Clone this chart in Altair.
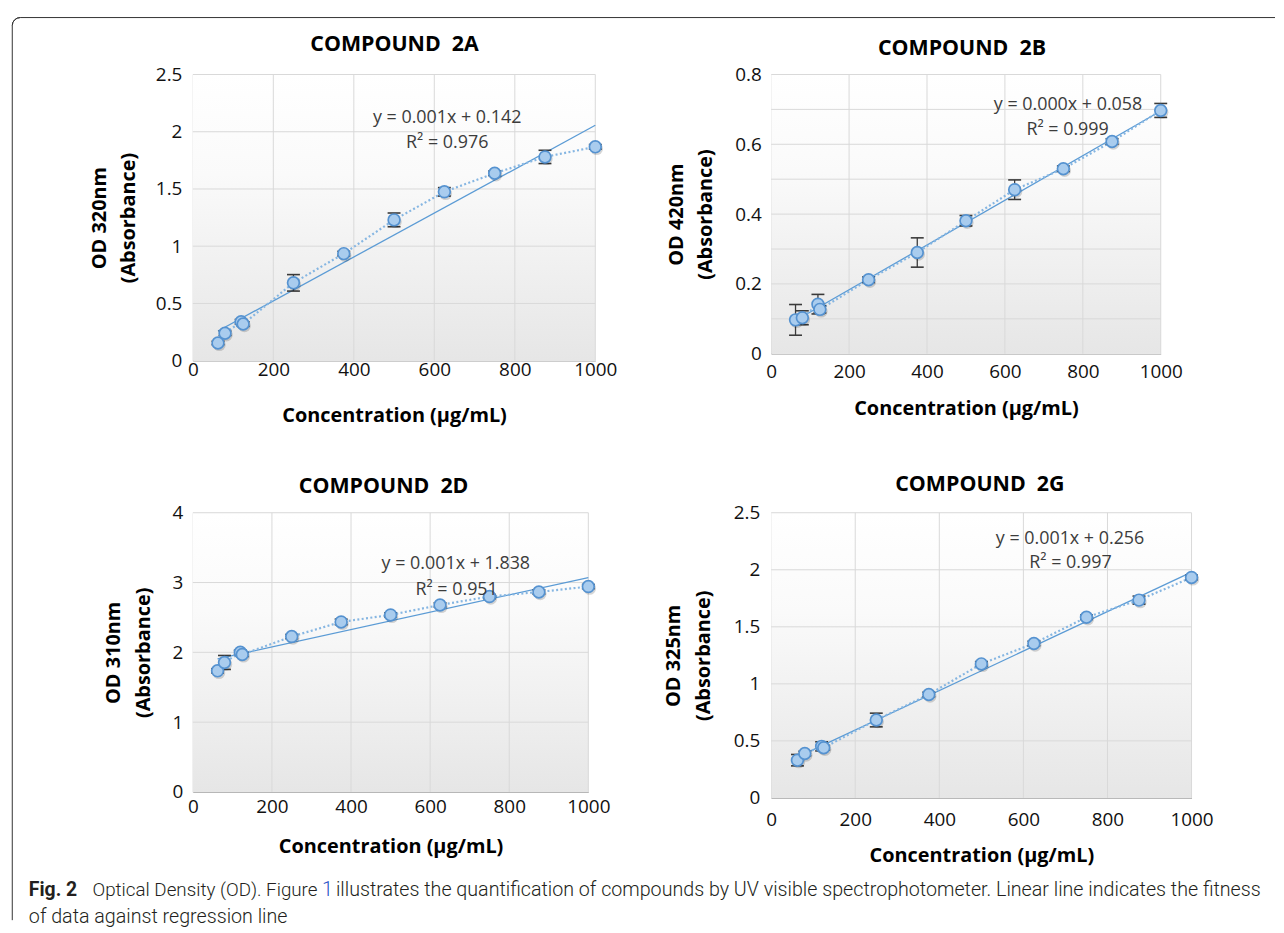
import altair as alt
import pandas as pd

# ---------------- data ----------------
conc = [62.5, 80, 120, 125, 250, 375, 500, 625, 750, 875, 1000]

od_2a = [0.155, 0.24, 0.34, 0.32, 0.68, 0.935, 1.23, 1.475, 1.637, 1.78, 1.868]
err_2a = [0.015, 0.02, 0.02, 0.02, 0.072, 0.02, 0.06, 0.037, 0.02, 0.058, 0.02]

od_2b = [0.097, 0.103, 0.142, 0.127, 0.212, 0.29, 0.381, 0.47, 0.53, 0.608, 0.697]
err_2b = [0.044, 0.02, 0.028, 0.01, 0.008, 0.042, 0.015, 0.028, 0.008, 0.008, 0.02]

od_2d = [1.735, 1.855, 2.0, 1.97, 2.226, 2.436, 2.536, 2.679, 2.799, 2.865, 2.942]
err_2d = [0.03, 0.1, 0.03, 0.03, 0.03, 0.04, 0.03, 0.03, 0.03, 0.03, 0.03]

od_2g = [0.331, 0.389, 0.452, 0.44, 0.683, 0.907, 1.175, 1.354, 1.584, 1.734, 1.933]
err_2g = [0.05, 0.02, 0.04, 0.02, 0.06, 0.02, 0.02, 0.02, 0.02, 0.035, 0.02]

x_ticks = [0, 200, 400, 600, 800, 1000]
y_ticks_2a = [0, 0.5, 1, 1.5, 2, 2.5]
y_ticks_2b = [0, 0.1, 0.2, 0.3, 0.4, 0.5, 0.6, 0.7, 0.8]
y_ticks_2d = [0, 1, 2, 3, 4]
y_ticks_2g = [0, 0.5, 1, 1.5, 2, 2.5]

panel_titles = ["COMPOUND\u00a0 2A", "COMPOUND\u00a0 2B", "COMPOUND\u00a0 2D", "COMPOUND\u00a0 2G"]
y_titles = [["OD 320nm", "(Absorbance)"], ["OD 420nm", "(Absorbance)"],
            ["OD 310nm", "(Absorbance)"], ["OD 325nm", "(Absorbance)"]]
x_title = "Concentration (µg/mL)"
equations = ["y = 0.001x + 0.142", "y = 0.000x + 0.058", "y = 0.001x + 1.838", "y = 0.001x + 0.256"]
r2_texts = ["R² = 0.976", "R² = 0.999", "R² = 0.951", "R² = 0.997"]

caption_bold = "Fig. 2"
caption_a = "Optical Density (OD). Figure"
caption_link = "1"
caption_b = ("illustrates the quantification of compounds by UV visible spectrophotometer. "
             "Linear line indicates the fitness")
caption_2 = "of data against regression line"

# ---------------- styles ----------------
FONT = "Open Sans"
CAP_FONT = "Roboto"
AXIS_C = "#B3B3B3"
GRID_C = "#D9D9D9"
TREND_C = "#5B9BD5"
DOT_C = "#86B6E2"
ERR_C = "#3A3A3A"
PFILL = "#A9CCEE"
PSTROKE = "#5592D0"
EQ_C = "#3C3C3C"
FRAME_C = "#333333"
CAP_C = "#231F20"

GRAD = alt.LinearGradient(
    gradient="linear",
    stops=[alt.GradientStop(color="#ffffff", offset=0),
           alt.GradientStop(color="#fafafa", offset=0.35),
           alt.GradientStop(color="#e6e6e6", offset=1)],
    x1=0, x2=0, y1=0, y2=1,
)

one = pd.DataFrame({"_": [0]})


def panel(title, ytitle, ys, errs, yticks, eq, r2, eq_pos, r2_pos, w, h,
          title_x, title_off, xlab_pad, xtitle_pad, ylab_pad, ytitle_pad, extra=()):
    ymax = yticks[-1]
    df = pd.DataFrame({"conc": conc, "od": ys, "err": errs})
    xs = alt.Scale(domain=[0, 1000], nice=False, zero=False)
    ysc = alt.Scale(domain=[0, ymax], nice=False, zero=False)
    xax = alt.Axis(values=x_ticks, format="d", grid=False, ticks=False,
                   domainColor=AXIS_C, domainWidth=1,
                   labelFont=FONT, labelFontSize=19, labelColor="#111111",
                   labelPadding=xlab_pad, labelFlush=False, labelOverlap=False,
                   title=x_title, titleFont=FONT, titleFontSize=20,
                   titleFontWeight="bold", titleColor="#000000", titlePadding=xtitle_pad)
    yax = alt.Axis(values=yticks, format="~g", grid=False, ticks=False,
                   domainColor=AXIS_C, domainWidth=1,
                   labelFont=FONT, labelFontSize=19, labelColor="#111111",
                   labelPadding=ylab_pad, labelFlush=False, labelOverlap=False,
                   title=ytitle, titleFont=FONT, titleFontSize=20,
                   titleFontWeight="bold", titleColor="#000000",
                   titlePadding=ytitle_pad, titleLineHeight=30)

    def X(f):
        return alt.X(f, scale=xs, axis=xax)

    def Y(f):
        return alt.Y(f, scale=ysc, axis=yax)

    bg = alt.Chart(pd.DataFrame({"x0": [x_ticks[0]], "x1": [x_ticks[-1]],
                                 "y0": [yticks[0]], "y1": [ymax]})).mark_rect(
        fill=GRAD, strokeWidth=0).encode(x=X("x0:Q"), x2="x1:Q", y=Y("y0:Q"), y2="y1:Q")
    vgrid = alt.Chart(pd.DataFrame({"v": x_ticks[1:]})).mark_rule(
        color=GRID_C, strokeWidth=1).encode(x=X("v:Q"))
    hgrid = alt.Chart(pd.DataFrame({"v": yticks[1:]})).mark_rule(
        color=GRID_C, strokeWidth=1).encode(y=Y("v:Q"))

    base = alt.Chart(df)
    trend = base.transform_regression("conc", "od").mark_line(
        color=TREND_C, strokeWidth=1.3).encode(x=X("conc:Q"), y=Y("od:Q"))
    dots = base.mark_line(color=DOT_C, strokeWidth=2.2, strokeDash=[2, 2.4]).encode(
        x=X("conc:Q"), y=Y("od:Q"))
    errd = base.transform_calculate(lo="datum.od - datum.err", hi="datum.od + datum.err")
    bars = errd.mark_rule(color=ERR_C, strokeWidth=1.3).encode(
        x=X("conc:Q"), y=Y("lo:Q"), y2="hi:Q")
    caps = errd.transform_fold(["lo", "hi"], as_=["k", "v"]).mark_tick(
        orient="horizontal", size=13, thickness=1.6, color=ERR_C, opacity=1).encode(
        x=X("conc:Q"), y=Y("v:Q"))
    shadow = base.mark_circle(size=165, color="#000000", opacity=0.16,
                              xOffset=1.3, yOffset=1.8).encode(x=X("conc:Q"), y=Y("od:Q"))
    pts = base.mark_circle(size=140, fill=PFILL, stroke=PSTROKE, strokeWidth=1.7,
                           opacity=1).encode(x=X("conc:Q"), y=Y("od:Q"))

    t_eq = alt.Chart(one).mark_text(text=eq, font=FONT, fontSize=18, color=EQ_C,
                                    align="center", baseline="middle").encode(
        x=alt.datum(eq_pos[0]), y=alt.datum(eq_pos[1]))
    t_r2 = alt.Chart(one).mark_text(text=r2, font=FONT, fontSize=18, color=EQ_C,
                                    align="center", baseline="middle").encode(
        x=alt.datum(r2_pos[0]), y=alt.datum(r2_pos[1]))
    t_title = alt.Chart(one).mark_text(text=title, font=FONT, fontSize=21.5,
                                       fontWeight="bold", color="#000000",
                                       align="center", baseline="alphabetic").encode(
        x=alt.value(title_x), y=alt.value(-title_off))

    layers = [bg, vgrid, hgrid, trend, dots, bars, caps, shadow, pts, t_eq, t_r2, t_title]
    layers += list(extra)
    return alt.layer(*layers).properties(width=w, height=h)


def cap_text(txt, x, y, size=19.8, weight=300, color=CAP_C):
    return alt.Chart(one).mark_text(text=txt, font=CAP_FONT, fontSize=size,
                                    fontWeight=weight, color=color, align="left",
                                    baseline="alphabetic").encode(
        x=alt.value(x), y=alt.value(y))


# ---- decorations: outer frame and figure caption (placed relative to panel 2A) ----
frame_top = alt.Chart(one).mark_rule(color=FRAME_C, strokeWidth=1).encode(
    x=alt.value(-173.7), x2=alt.value(1089), y=alt.value(-57.3))
frame_left = alt.Chart(one).mark_rule(color=FRAME_C, strokeWidth=1).encode(
    x=alt.value(-181.7), y=alt.value(-49.3), y2=alt.value(851))
frame_corner = alt.Chart(one).mark_arc(radius=8, radius2=8, theta=4.7124, theta2=6.2832,
                                       stroke=FRAME_C, strokeWidth=1, fill="#ffffff",
                                       fillOpacity=0).encode(
    x=alt.value(-173.7), y=alt.value(-49.3))
cap1 = cap_text(caption_bold, -165, 826.7, size=19.5, weight="bold")
cap2 = cap_text(caption_a, -101, 826.7, size=18.9)
cap3 = cap_text(caption_link, 130, 826.7, color="#1F4FC8")
cap4 = cap_text(caption_b, 144, 826.7)
cap5 = cap_text(caption_2, -165, 854.3)

p2a = panel(panel_titles[0], y_titles[0], od_2a, err_2a, y_ticks_2a,
            equations[0], r2_texts[0], (632, 2.12), (632, 1.90), 405, 288,
            203, 24, 0, 26, 11, 16.5,
            extra=[frame_top, frame_left, frame_corner, cap1, cap2, cap3, cap4, cap5])
p2b = panel(panel_titles[1], y_titles[1], od_2b, err_2b, y_ticks_2b,
            equations[1], r2_texts[1], (762, 0.713), (761, 0.640), 392, 281,
            192, 19.5, 9, 17, 10, 19)
p2d = panel(panel_titles[2], y_titles[2], od_2d, err_2d, y_ticks_2d,
            equations[2], r2_texts[2], (665, 3.27), (667, 2.89), 398, 281,
            192, 19.5, 6, 20, 10, 18.5)
p2g = panel(panel_titles[3], y_titles[3], od_2g, err_2g, y_ticks_2g,
            equations[3], r2_texts[3], (711, 2.27), (712, 2.06), 423, 287,
            210, 21.5, 13, 16, 11.5, 20)

chart = alt.concat(p2a, p2b, p2d, p2g, columns=2,
                   spacing={"row": 153, "column": 177},
                   bounds="flush", align="each").properties(
    padding={"left": 1, "top": 4, "right": 0, "bottom": 0}
).configure_view(stroke="transparent")

chart.save("out.html", embed_options={"renderer": "svg", "actions": False})
